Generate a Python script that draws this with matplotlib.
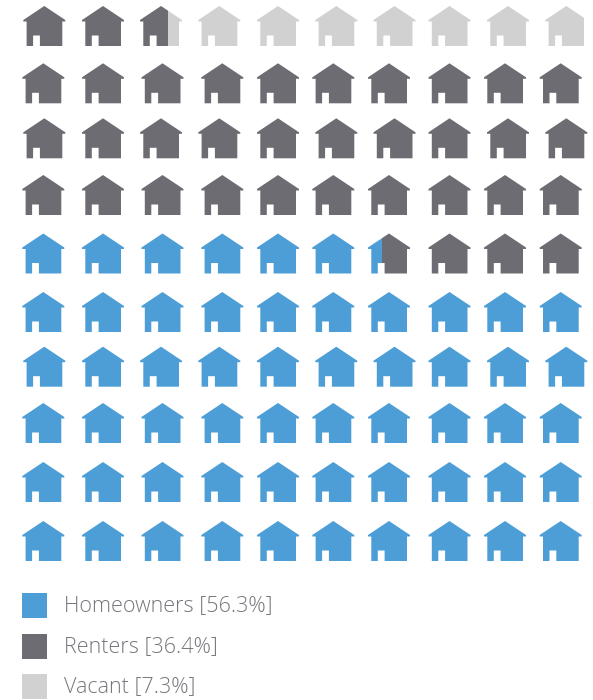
import matplotlib
matplotlib.use("Agg")
import matplotlib.pyplot as plt
from matplotlib.patches import PathPatch, Rectangle
from matplotlib.path import Path

labels = ["Homeowners", "Renters", "Vacant"]
shares = [56.3, 36.4, 7.3]
colors = ["#4d9ed7", "#6d6c72", "#d1d1d1"]
text_color = "#76767c"

# layout, in pixels
row_tops = [6, 63.3, 118.3, 175, 233.5, 292, 346.7, 403, 462, 521]  # top row first
cols_a = [44.3, 103, 161, 219.3, 278, 336.3, 394.5, 449.5, 508, 566.3]
cols_b = [43.3, 103, 162.5, 222.3, 278, 333.3, 389, 449.5, 505, 560.7]
row_cols = [cols_a, cols_b, cols_a, cols_b, cols_b, cols_b, cols_a, cols_b, cols_b, cols_b]
legend_tops = [593, 634, 674]

# house outline relative to apex
house = [(0, 0), (21, 14), (21, 15.5), (18, 15.5), (18, 40), (-4.4, 40), (-4.4, 29.5),
         (-11.2, 29.5), (-11.2, 40), (-17.7, 40), (-17.7, 15.5), (-21, 15.5), (-21, 14), (0, 0)]

fig = plt.figure(figsize=(5.93, 7), dpi=100)
ax = fig.add_axes([0, 0, 1, 1])
ax.set_xlim(0, 593)
ax.set_ylim(700, 0)
ax.axis("off")


def draw_house(cx, top, start, end):
    # start/end: cumulative percent covered by this icon
    pts = [(cx + a, top + b) for a, b in house]
    clip = PathPatch(Path(pts, closed=True), transform=ax.transData, fc="none", ec="none")
    ax.add_patch(clip)
    x0 = cx - 18
    cum = 0
    for share, color in zip(shares, colors):
        lo = max(cum, start)
        hi = min(cum + share, end)
        cum += share
        if hi <= lo:
            continue
        # apply the eaves to the outer segments
        left = x0 + (lo - start) / (end - start) * 36
        right = x0 + (hi - start) / (end - start) * 36
        if lo == start:
            left = cx - 22
        if hi == end:
            right = cx + 22
        r = Rectangle((left, top - 1), right - left, 42, fc=color, ec="none")
        ax.add_patch(r)
        r.set_clip_path(clip)


n = 0
for row in range(9, -1, -1):
    for cx in row_cols[row]:
        draw_house(cx, row_tops[row], n, n + 1)
        n += 1

for top, label, share, color in zip(legend_tops, labels, shares, colors):
    ax.add_patch(Rectangle((22, top), 25, 25, fc=color, ec="none"))
    ax.text(63.5, top + 12.5, f"{label} [{share}%]", fontsize=15.5, color=text_color,
            family="Open Sans", fontweight="light", va="center", ha="left")

fig.savefig("out.png", dpi=100)
